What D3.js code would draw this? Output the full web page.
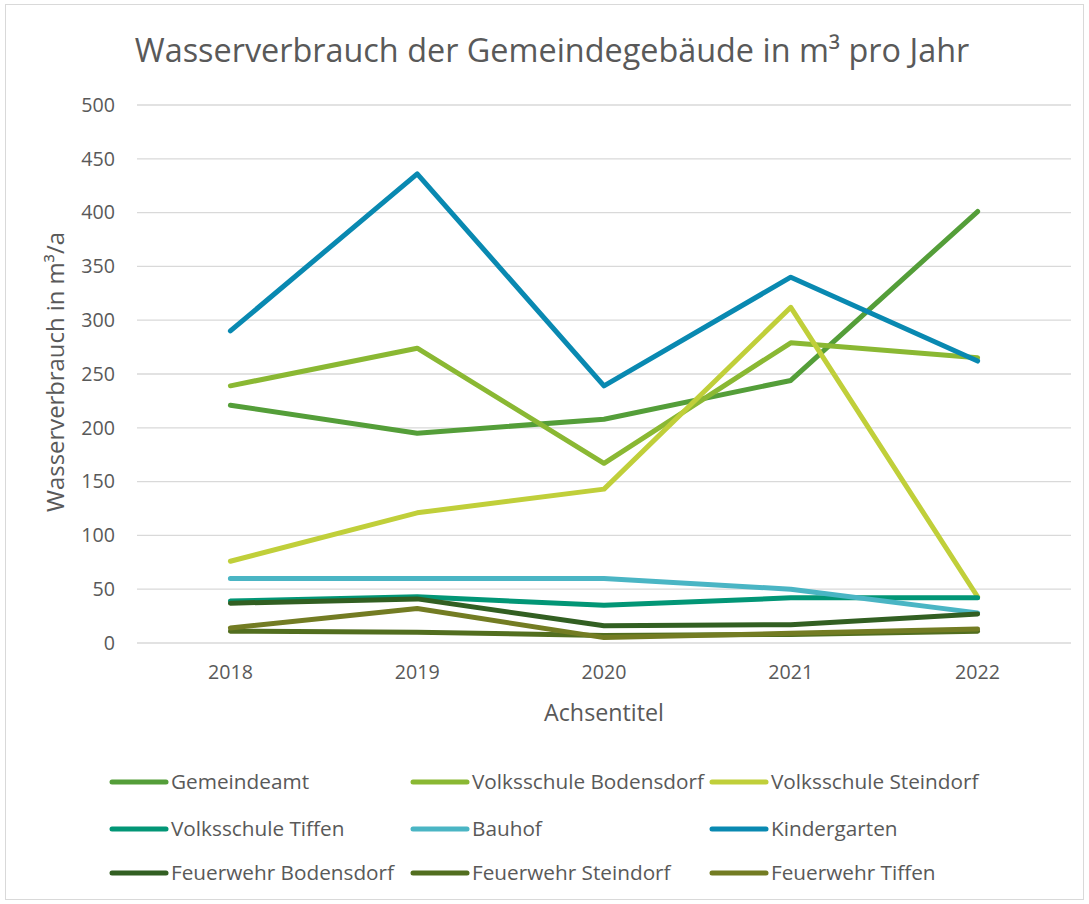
<!DOCTYPE html>
<html><head><meta charset="utf-8">
<script src="https://cdn.jsdelivr.net/npm/d3@7"></script>
<style>body{margin:0;background:#fff}svg{display:block}</style>
</head><body>
<svg id="c" width="1089" height="904"></svg>
<script>
const years = ["2018","2019","2020","2021","2022"];
const seriesNames = ["Gemeindeamt","Volksschule Bodensdorf","Volksschule Steindorf","Volksschule Tiffen","Bauhof","Kindergarten","Feuerwehr Bodensdorf","Feuerwehr Steindorf","Feuerwehr Tiffen"];
const gemeindeamt = [221,195,208,244,401];
const vsBodensdorf = [239,274,167,279,265];
const vsSteindorf = [76,121,143,312,43];
const vsTiffen = [39,43,35,42,42];
const bauhof = [60,60,60,50,28];
const kindergarten = [290,436,239,340,262];
const fwBodensdorf = [37,41,16,17,27];
const fwSteindorf = [11,10,7,8,11];
const fwTiffen = [14,32,5,9,13];
const seriesValues = [gemeindeamt,vsBodensdorf,vsSteindorf,vsTiffen,bauhof,kindergarten,fwBodensdorf,fwSteindorf,fwTiffen];
const colors = ["#549E39","#8AB833","#C0CF3A","#029676","#4AB5C4","#0989B1","#325F22","#526E1F","#737C23"];
const yTicks = [0,50,100,150,200,250,300,350,400,450,500];

const FONT = "'Open Sans', sans-serif";
const svg = d3.select("#c");
function fit(text, target, base){
  const t = svg.append("text").attr("font-family",FONT).attr("font-size",base).text(text);
  const w = t.node().getComputedTextLength(); t.remove();
  return base*target/w;
}
svg.append("rect").attr("x",5.5).attr("y",4.5).attr("width",1078).attr("height",895)
  .attr("fill","#fff").attr("stroke","#d9d9d9").attr("stroke-width",1);

const plotL=137, plotR=1071, plotT=105, plotB=643;
const x = d3.scaleBand().domain(years).range([plotL,plotR]);
const y = d3.scaleLinear().domain([0,500]).range([plotB,plotT]);

const titleSize = fit("Wasserverbrauch der Gemeindegebäude in m³ pro Jahr", 835, 30);
svg.append("text").attr("x",552).attr("y",62).attr("text-anchor","middle")
  .attr("font-family",FONT).attr("font-size",titleSize).attr("fill","#595959")
  .text("Wasserverbrauch der Gemeindegebäude in m³ pro Jahr");

// gridlines
svg.append("g").selectAll("line").data(yTicks).join("line")
  .attr("x1",plotL).attr("x2",plotR).attr("y1",d=>y(d)).attr("y2",d=>y(d))
  .attr("stroke","#d9d9d9").attr("stroke-width",1.3);

const tickSize = fit("2018", 45, 18);
const yAxis = svg.append("g").attr("transform",`translate(${plotL},0)`)
  .call(d3.axisLeft(y).tickValues(yTicks).tickSize(0).tickPadding(22));
yAxis.select(".domain").remove();
yAxis.selectAll("text").attr("font-family",FONT).attr("font-size",tickSize).attr("fill","#595959");

const xAxis = svg.append("g").attr("transform",`translate(0,${plotB})`)
  .call(d3.axisBottom(x).tickSize(0).tickPadding(22));
xAxis.select(".domain").remove();
xAxis.selectAll("text").attr("font-family",FONT).attr("font-size",tickSize).attr("fill","#595959");

const axTitleSize = fit("Achsentitel", 120, 20);
svg.append("text").attr("x",(plotL+plotR)/2).attr("y",721).attr("text-anchor","middle")
  .attr("font-family",FONT).attr("font-size",axTitleSize).attr("fill","#595959").text("Achsentitel");
const yTitleSize = fit("Wasserverbrauch in m³/a", 280, 20);
svg.append("text").attr("transform",`translate(64,372) rotate(-90)`).attr("text-anchor","middle")
  .attr("font-family",FONT).attr("font-size",yTitleSize).attr("fill","#595959").text("Wasserverbrauch in m³/a");

const line = d3.line().x((d,i)=>x(years[i])+x.bandwidth()/2).y(d=>y(d));
svg.append("g").selectAll("path").data(seriesValues).join("path")
  .attr("d",line).attr("fill","none").attr("stroke",(d,i)=>colors[i])
  .attr("stroke-width",5).attr("stroke-linejoin","round").attr("stroke-linecap","round");

// legend
const legSize = fit("Volksschule Bodensdorf", 232, 18);
const colX = [112,413,712], rowY = [782,829,873];
const leg = svg.append("g").selectAll("g").data(seriesNames).join("g")
  .attr("transform",(d,i)=>`translate(${colX[i%3]},${rowY[Math.floor(i/3)]})`);
leg.append("line").attr("x1",0).attr("x2",54).attr("y1",0).attr("y2",0)
  .attr("stroke",(d,i)=>colors[i]).attr("stroke-width",5).attr("stroke-linecap","round");
leg.append("text").attr("x",59).attr("y",0).attr("dy","0.35em")
  .attr("font-family",FONT).attr("font-size",legSize).attr("fill","#595959").text(d=>d);
</script>
</body></html>
